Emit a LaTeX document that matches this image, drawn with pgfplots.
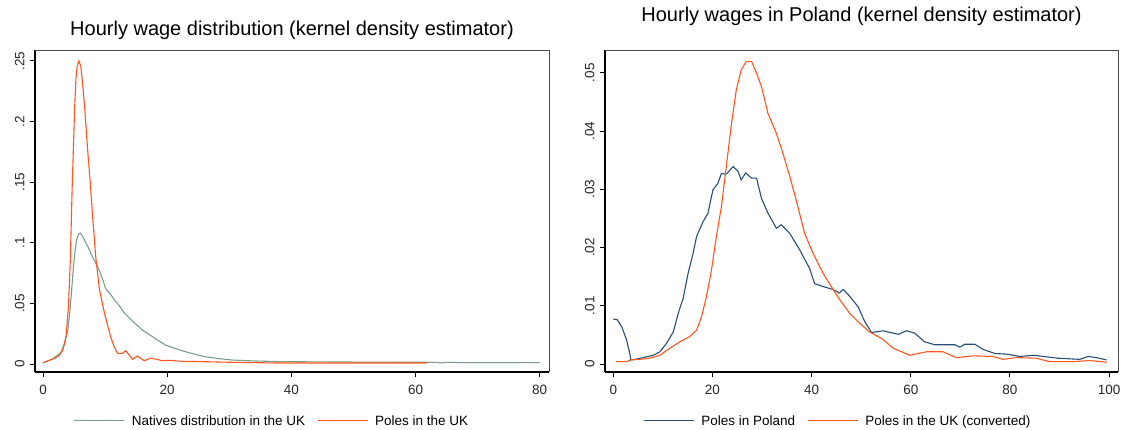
\documentclass[border=0pt]{standalone}
\usepackage{fontspec}
\setmainfont{Liberation Sans}
\usepackage{pgfplots}
\pgfplotsset{compat=1.18}

\definecolor{natgreen}{RGB}{122,158,142}
\definecolor{polesorange}{RGB}{255,85,30}
\definecolor{polesnavy}{RGB}{38,78,118}

\pgfplotsset{
  statastyle/.style={
    scale only axis, height=322pt, clip=false,
    axis lines*=left,
    axis line style={black, line width=1.3pt},
    tick align=outside, major tick length=5pt,
    tick style={black, line width=0.9pt},
    ticklabel style={font=\fontsize{13.5}{15}\selectfont, text=black!85},
    xticklabel style={yshift=-5pt},
    /pgf/number format/assume math mode=true,
    scaled y ticks=false,
    yticklabel style={rotate=90, anchor=south, yshift=2pt},
    legend columns=2,
    legend style={draw=none, fill=none, font=\fontsize{13.5}{15}\selectfont,
      anchor=center, /tikz/every even column/.append style={column sep=10pt}},
    legend image code/.code={\draw[#1] (0pt,0pt) -- (50pt,0pt); \path (55pt,0pt);},
    title style={font=\fontsize{20}{23}\selectfont, at={(0.5,1)}, anchor=base},
    every axis plot/.append style={line width=1.1pt, no markers},
  }
}

\begin{document}
\begin{tikzpicture}
% left panel
\begin{axis}[statastyle,
  at={(35pt,58pt)}, anchor=south west, width=514pt,
  xmin=-1.29, xmax=81.5, ymin=-0.0066, ymax=0.259,
  xtick={0,20,40,60,80},
  ytick={0,0.05,0.1,0.15,0.2,0.25},
  yticklabels={0,.05,.1,.15,.2,.25},
  title={Hourly wage distribution (kernel density estimator)},
  title style={yshift=8.3pt},
  legend style={at={(0.461,-0.152)}},
]
\addplot[natgreen] coordinates {
(0,0.001) (1.5,0.004) (2.8,0.009) (3.5,0.017) (4.0,0.028) (4.3,0.042) (4.6,0.060)
(4.9,0.080) (5.2,0.095) (5.4,0.102) (5.7,0.107) (6.0,0.108) (6.3,0.106) (6.7,0.102)
(7.3,0.096) (8.0,0.088) (8.5,0.083) (9.1,0.077) (9.6,0.070) (10.1,0.062) (10.8,0.058)
(11.5,0.053) (12.3,0.048) (13.1,0.042) (14.5,0.035) (16.0,0.028) (17.8,0.022)
(19.7,0.0157) (21.3,0.0128) (22.9,0.0102) (24.5,0.0080) (26.1,0.0060) (28.2,0.0045)
(30.4,0.0033) (34,0.0025) (37.9,0.0020) (45,0.0017) (55,0.0015) (62,0.0014)
(63.5,0.0013) (64.2,0.0008) (64.8,0.0013) (66,0.0014) (67,0.0011) (72,0.0011) (80,0.0011)
};
\addlegendentry{Natives distribution in the UK}
\addplot[polesorange] coordinates {
(0,0.001) (1.0,0.003) (1.9,0.0047) (2.6,0.007) (3.2,0.0115) (3.7,0.0225) (4.1,0.047)
(4.4,0.086) (4.7,0.146) (5.1,0.212) (5.3,0.235) (5.5,0.246) (5.8,0.250) (6.1,0.245)
(6.4,0.230) (6.7,0.212) (7.2,0.176) (7.6,0.150) (8.0,0.121) (8.5,0.088) (9.1,0.061)
(9.9,0.042) (10.4,0.032) (10.9,0.0225) (11.4,0.015) (12.0,0.0088) (12.8,0.0088)
(13.3,0.011) (13.8,0.008) (14.4,0.0038) (15.2,0.0066) (16.3,0.0027) (17.3,0.0047)
(18.2,0.0040) (19.2,0.0027) (20.5,0.0030) (22.4,0.0022) (25,0.0020) (30.4,0.0014)
(37.9,0.0008) (45,0.0008) (55,0.0008) (61.8,0.0008)
};
\addlegendentry{Poles in the UK}
\draw[black!70, line width=0.8pt] (rel axis cs:0,1) -- (rel axis cs:1,1) -- (rel axis cs:1,0);
\end{axis}

% right panel
\begin{axis}[statastyle,
  at={(605pt,58pt)}, anchor=south west, width=513pt,
  xmin=-1.67, xmax=101.8, ymin=-0.00137, ymax=0.0539,
  xtick={0,20,40,60,80,100},
  ytick={0,0.01,0.02,0.03,0.04,0.05},
  yticklabels={0,.01,.02,.03,.04,.05},
  title={Hourly wages in Poland (kernel density estimator)},
  title style={yshift=22.7pt},
  legend style={at={(0.454,-0.152)}},
]
\addplot[polesnavy] coordinates {
(0,0.0077) (0.8,0.0076) (1.7,0.0064) (2.7,0.0041) (3.4,0.0015) (3.5,0.0007)
(4.5,0.0008) (5.4,0.0010) (8.1,0.0015) (9.4,0.0021) (10.7,0.0035) (12.1,0.0055)
(13.1,0.0087) (14.1,0.0113) (15.1,0.0156) (16.1,0.0190) (16.8,0.0219) (18.1,0.0244)
(19.1,0.0259) (20.1,0.0299) (21.1,0.0310) (21.8,0.0327) (22.8,0.0326) (24.2,0.0339)
(25.2,0.0330) (25.8,0.0316) (26.7,0.0328) (27.9,0.0319) (28.9,0.0319) (29.9,0.0284)
(31.2,0.0259) (32.9,0.0233) (33.9,0.0239) (35.6,0.0224) (37.6,0.0196) (39.6,0.0164)
(40.6,0.0138) (42.3,0.0133) (44.3,0.0128) (45.6,0.0122) (46.4,0.0128) (47.7,0.0116)
(49.4,0.0098) (50.7,0.0073) (52.1,0.0054) (54.4,0.0057) (57.5,0.0051) (59.1,0.0057)
(60.8,0.0053) (62.8,0.0038) (64.9,0.0033) (68.9,0.0033) (69.9,0.0029) (70.9,0.0034)
(72.9,0.0034) (74.6,0.0025) (77.0,0.0018) (79.3,0.0017) (82.0,0.0013) (84.7,0.0015)
(89.7,0.0010) (94.1,0.0008) (95.8,0.0013) (97.4,0.0011) (99.5,0.0007)
};
\addlegendentry{Poles in Poland}
\addplot[polesorange] coordinates {
(0.5,0.0004) (2.7,0.0004) (3.4,0.0007) (5.4,0.0008) (7.4,0.0010) (9.4,0.0015)
(11.4,0.0027) (13.4,0.0038) (15.4,0.0047) (16.8,0.0058) (17.8,0.0081) (18.8,0.0116)
(19.8,0.0161) (20.8,0.0219) (21.8,0.0270) (22.8,0.0339) (23.8,0.0410) (24.8,0.0470)
(25.8,0.0505) (26.8,0.0519) (27.9,0.0519) (28.9,0.0499) (29.9,0.0476) (31.2,0.0430)
(32.9,0.0396) (34.2,0.0362) (35.6,0.0322) (36.9,0.0281) (38.6,0.0224) (40.3,0.0190)
(42.3,0.0156) (43.6,0.0138) (45.7,0.0110) (47.7,0.0087) (49.7,0.0070) (51.7,0.0055)
(54.1,0.0044) (56.5,0.0027) (59.8,0.0015) (63.2,0.0021) (66.5,0.0021) (69.2,0.0011)
(72.6,0.0014) (76.6,0.0013) (78.6,0.0008) (81.3,0.0011) (85.3,0.0010) (88.0,0.0004)
(92.7,0.0004) (96.1,0.0006) (99.5,0.0003)
};
\addlegendentry{Poles in the UK (converted)}
\draw[black!70, line width=0.8pt] (rel axis cs:0,1) -- (rel axis cs:1,1) -- (rel axis cs:1,0);
\end{axis}
\pgfresetboundingbox
\path[use as bounding box] (0,0) rectangle (1123pt,430pt);
\end{tikzpicture}
\end{document}
